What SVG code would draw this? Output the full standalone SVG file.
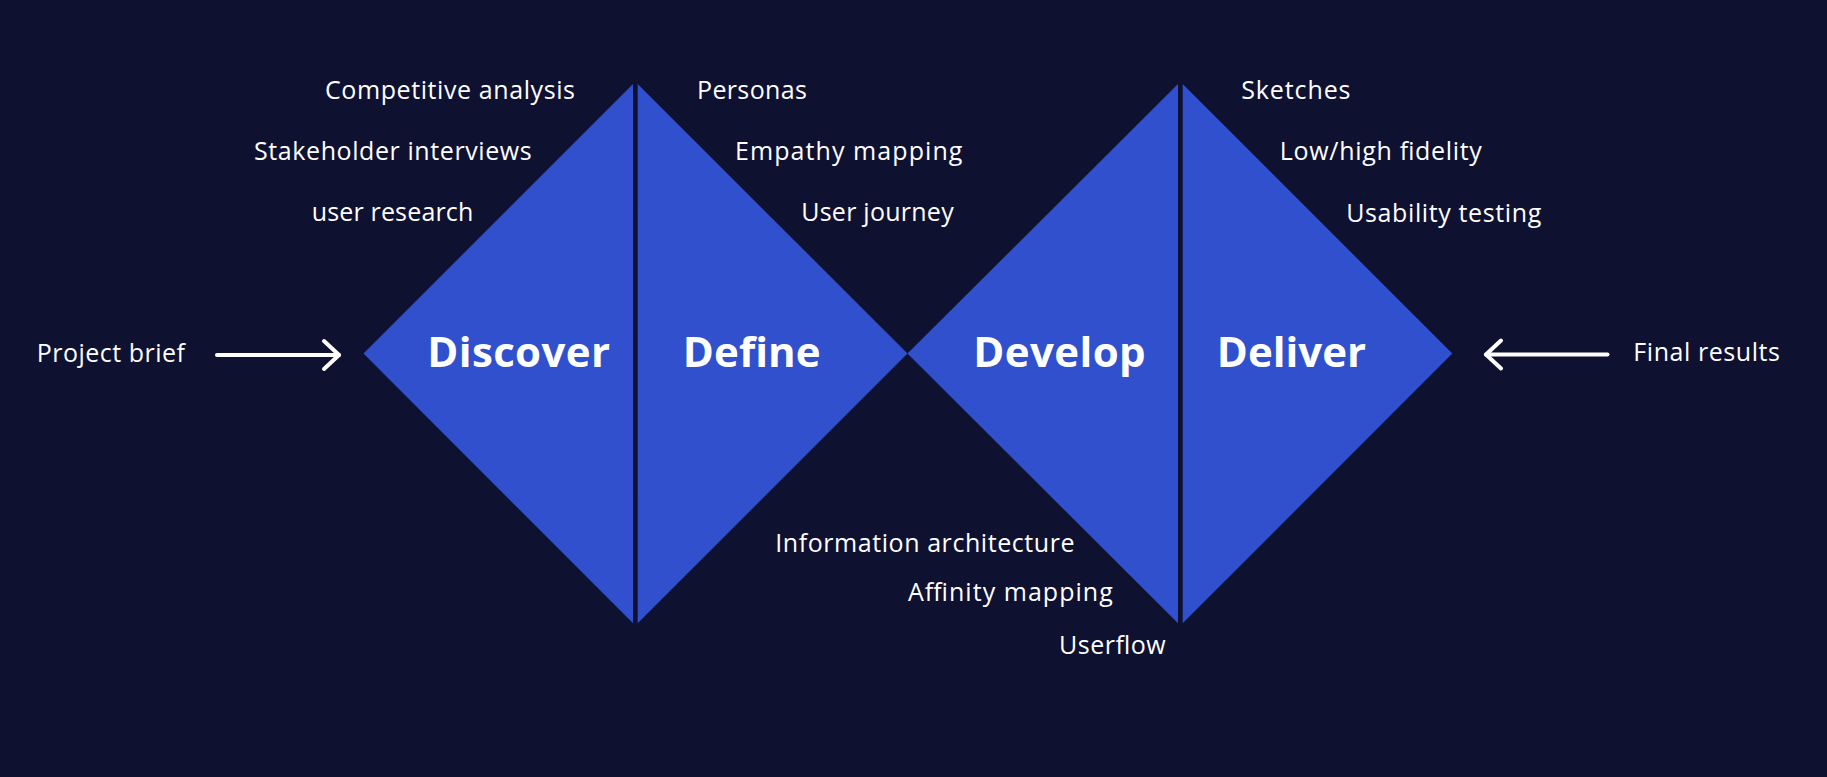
<svg xmlns="http://www.w3.org/2000/svg" width="1827" height="777" viewBox="0 0 1827 777">
  <style>
    .bg { fill: #0f1131; }
    .tri { fill: #3050cd; }
    .lbl { font-family: "Open Sans", "Liberation Sans", sans-serif; font-size: 25px; fill: #ffffff; }
    .big { font-family: "Open Sans", "Liberation Sans", sans-serif; font-size: 42px; font-weight: 700; fill: #ffffff; }
    .arrow { fill: none; stroke: #ffffff; stroke-width: 4; stroke-linecap: round; stroke-linejoin: round; }
  </style>
  <defs>
    <marker id="chev" markerUnits="userSpaceOnUse" viewBox="0 0 22 34" markerWidth="22" markerHeight="34" refX="18" refY="17" orient="auto">
      <path d="M3,3 L18,17 L3,31" fill="none" stroke="#ffffff" stroke-width="4" stroke-linecap="round" stroke-linejoin="round"/>
    </marker>
  </defs>
  <rect class="bg" x="0" y="0" width="1827" height="777"/>

  <g id="discover">
    <polygon class="tri" points="633,84 363.5,353.5 633,623.3"/>
    <text class="big" x="427.3" y="366.7" textLength="182.7">Discover</text>
  </g>
  <g id="define">
    <polygon class="tri" points="637.7,84 907.5,353.5 637.7,623.3"/>
    <text class="big" x="682.7" y="366.7" textLength="138">Define</text>
  </g>
  <g id="develop">
    <polygon class="tri" points="907.5,353.5 1178,84 1178,623.3"/>
    <text class="big" x="973.2" y="366.7" textLength="172.5">Develop</text>
  </g>
  <g id="deliver">
    <polygon class="tri" points="1182.7,84 1452.3,353.5 1182.7,623.3"/>
    <text class="big" x="1216.8" y="366.7" textLength="149.3">Deliver</text>
  </g>

  <g id="discover-items">
    <text class="lbl" x="325" y="99.3" textLength="250">Competitive analysis</text>
    <text class="lbl" x="254" y="160" textLength="277.7">Stakeholder interviews</text>
    <text class="lbl" x="311.7" y="221" textLength="161.6">user research</text>
  </g>
  <g id="define-items">
    <text class="lbl" x="697" y="99.3" textLength="109.9">Personas</text>
    <text class="lbl" x="735" y="160" textLength="227.4">Empathy mapping</text>
    <text class="lbl" x="801.2" y="221" textLength="152.5">User journey</text>
  </g>
  <g id="develop-items">
    <text class="lbl" x="775.3" y="551.7" textLength="299.2">Information architecture</text>
    <text class="lbl" x="908" y="600.7" textLength="204.8">Affinity mapping</text>
    <text class="lbl" x="1059" y="653.5" textLength="106.6">Userflow</text>
  </g>
  <g id="deliver-items">
    <text class="lbl" x="1241.2" y="99.3" textLength="109.3">Sketches</text>
    <text class="lbl" x="1279.8" y="160" textLength="202.1">Low/high fidelity</text>
    <text class="lbl" x="1346.2" y="222.3" textLength="195.1">Usability testing</text>
  </g>

  <g id="project-brief">
    <text class="lbl" x="36.7" y="362.3" textLength="148.3">Project brief</text>
  </g>
  <g id="final-results">
    <text class="lbl" x="1633.3" y="360.7" textLength="146.7">Final results</text>
  </g>

  <g id="connectors">
    <path class="arrow" d="M217,355 L339,355" marker-end="url(#chev)"/>
    <path class="arrow" d="M1607.5,354.5 L1486,354.5" marker-end="url(#chev)"/>
  </g>
</svg>
